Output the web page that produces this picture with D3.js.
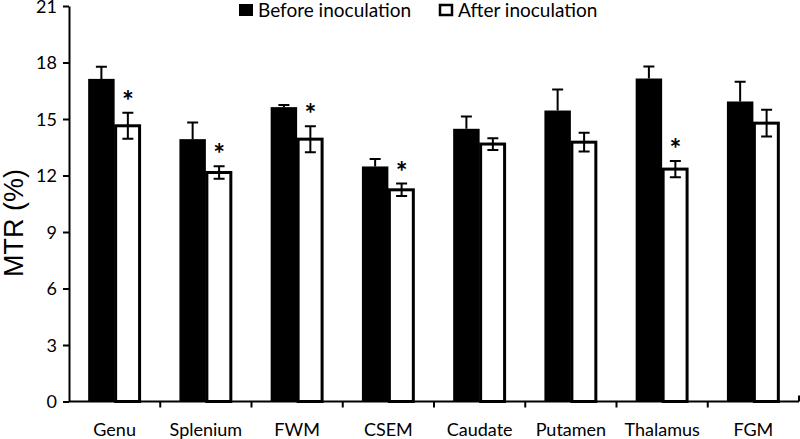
<!DOCTYPE html>
<html>
<head>
<meta charset="utf-8">
<script src="https://cdn.jsdelivr.net/npm/d3@7"></script>
<style>
  html, body { margin: 0; padding: 0; background: #fff; }
  svg { display: block; }
</style>
</head>
<body>
<svg id="chart" width="800" height="439"></svg>
<script>
const categories = ["Genu", "Splenium", "FWM", "CSEM", "Caudate", "Putamen", "Thalamus", "FGM"];
const seriesNames = ["Before inoculation", "After inoculation"];
const beforeValues = [17.13, 13.93, 15.63, 12.48, 14.48, 15.45, 17.15, 15.93];
const beforeErrors = [0.64, 0.88, 0.12, 0.40, 0.65, 1.12, 0.64, 1.05];
const afterValues = [14.64, 12.16, 13.93, 11.24, 13.67, 13.77, 12.34, 14.78];
const afterErrors = [0.69, 0.33, 0.69, 0.33, 0.31, 0.50, 0.43, 0.71];
const significant = [true, true, true, true, false, false, true, false];
const yTicks = [0, 3, 6, 9, 12, 15, 18, 21];

(function () {
const svg = d3.select("#chart");
const mLeft = 69, mRight = 799, mTop = 6, mBottom = 401.5;
const labelFont = "Lato, 'Open Sans', sans-serif";

const x = d3.scaleBand().domain(categories).range([mLeft, mRight]).paddingInner(0).paddingOuter(0);
const sub = d3.scaleBand().domain(["before", "after"]).range([x.bandwidth() * 0.21, x.bandwidth() * 0.79]);
const y = d3.scaleLinear().domain([0, 21]).range([mBottom, mTop]);

const rows = categories.map((c, i) => ({
  cat: c, b: beforeValues[i], be: beforeErrors[i], a: afterValues[i], ae: afterErrors[i], sig: significant[i]
}));

const g = svg.append("g");

// Before bars
g.selectAll("rect.before").data(rows).join("rect")
  .attr("class", "before")
  .attr("x", d => x(d.cat) + sub("before"))
  .attr("y", d => y(d.b))
  .attr("width", sub.bandwidth())
  .attr("height", d => y(0) - y(d.b))
  .attr("fill", "#000");

// Before error bars (upward only)
const capW = 5.5;
g.selectAll("path.berr").data(rows).join("path")
  .attr("class", "berr")
  .attr("d", d => {
    const cx = x(d.cat) + sub("before") + sub.bandwidth() / 2;
    const yt = y(d.b + d.be), yb = y(d.b);
    return `M${cx},${yb}V${yt}M${cx - capW},${yt}H${cx + capW}`;
  })
  .attr("stroke", "#000").attr("stroke-width", 2).attr("fill", "none");

// After bars (white with black outline)
g.selectAll("rect.after").data(rows).join("rect")
  .attr("class", "after")
  .attr("x", d => x(d.cat) + sub("after") + 1)
  .attr("y", d => y(d.a))
  .attr("width", sub.bandwidth() - 2.5)
  .attr("height", d => y(0) - y(d.a))
  .attr("fill", "#fff").attr("stroke", "#000").attr("stroke-width", 3);

// After error bars
g.selectAll("path.aerr").data(rows).join("path")
  .attr("class", "aerr")
  .attr("d", d => {
    const cx = x(d.cat) + sub("after") + sub.bandwidth() / 2;
    const yt = y(d.a + d.ae), yb = y(d.a - d.ae);
    return `M${cx},${yb}V${yt}M${cx - capW},${yt}H${cx + capW}M${cx - capW},${yb}H${cx + capW}`;
  })
  .attr("stroke", "#000").attr("stroke-width", 2).attr("fill", "none");

// Asterisks
g.selectAll("text.star").data(rows.filter(d => d.sig)).join("text")
  .attr("class", "star")
  .attr("x", d => x(d.cat) + sub("after") + sub.bandwidth() / 2)
  .attr("y", d => y(d.a + d.ae) - 2)
  .attr("text-anchor", "middle")
  .attr("font-family", labelFont)
  .attr("font-weight", "bold")
  .attr("font-size", 28)
  .text("*");

// Y axis
const yAxis = d3.axisLeft(y).tickValues(yTicks).tickSize(6).tickPadding(6).tickSizeOuter(0);
const yg = svg.append("g").attr("transform", `translate(${mLeft},0)`).call(yAxis);
yg.select(".domain").attr("stroke-width", 2);
yg.selectAll(".tick line").attr("stroke-width", 2);
yg.selectAll(".tick text").attr("font-family", labelFont).attr("font-size", 18).attr("fill", "#000")
  .attr("dy", "0.36em");

// X axis
const xAxis = d3.axisBottom(x).tickSize(0).tickPadding(0).tickSizeOuter(0);
const xg = svg.append("g").attr("transform", `translate(0,${mBottom})`).call(xAxis);
xg.select(".domain").attr("stroke-width", 2).attr("d", `M${mLeft},0H${mRight}`);
xg.selectAll(".tick text").attr("font-family", labelFont).attr("font-size", 18).attr("fill", "#000").attr("dy", 0).attr("y", 34);
// Boundary ticks
xg.selectAll("line.bound").data(categories.slice(1).concat(["__end"])).join("line")
  .attr("class", "bound")
  .attr("x1", d => d === "__end" ? mRight : x(d))
  .attr("x2", d => d === "__end" ? mRight : x(d))
  .attr("y1", d => d === "__end" ? -6 : 0)
  .attr("y2", d => d === "__end" ? 0 : 6)
  .attr("stroke", "#000").attr("stroke-width", 2);

// Y title
svg.append("text")
  .attr("transform", `translate(23,223) rotate(-90)`)
  .attr("text-anchor", "middle")
  .attr("font-family", "'Liberation Sans', Arial, sans-serif")
  .attr("font-size", 27)
  .text("MTR (%)");

// Legend
const legend = svg.append("g");
const legendX = [239, 439];
seriesNames.forEach((name, i) => {
  const lg = legend.append("g").attr("transform", `translate(${legendX[i]},4)`);
  lg.append("rect").attr("x", i === 0 ? 0 : 1).attr("y", i === 0 ? 0 : 1)
    .attr("width", i === 0 ? 14 : 12).attr("height", i === 0 ? 12 : 10)
    .attr("fill", i === 0 ? "#000" : "#fff")
    .attr("stroke", "#000").attr("stroke-width", i === 0 ? 0 : 2.5);
  lg.append("text").attr("x", 19).attr("y", 12.5)
    .attr("font-family", labelFont).attr("font-size", 19).text(name);
});
})();
</script>
</body>
</html>
